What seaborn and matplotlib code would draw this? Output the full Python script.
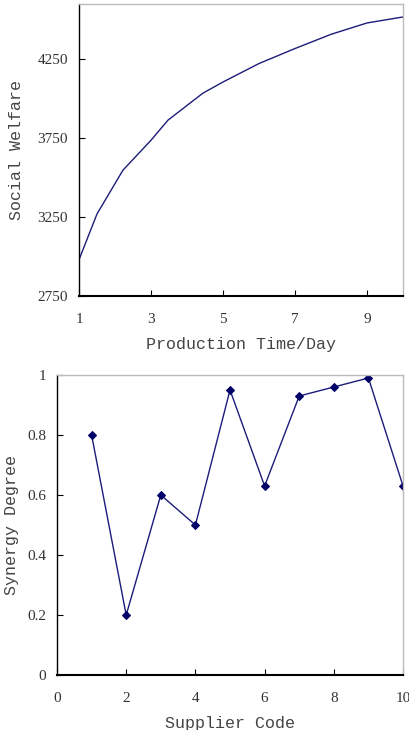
import matplotlib
matplotlib.use("Agg")
import matplotlib.pyplot as plt
import seaborn as sns
import pandas as pd

# Top chart data
prod_time = [1, 1.5, 2.22, 3, 3.47, 4.44, 5, 6, 7, 8, 9, 10]
welfare = [2980, 3270, 3547, 3737, 3864, 4035, 4106, 4223, 4318, 4408, 4480, 4518]
top_xticks = [1, 3, 5, 7, 9]
top_yticks = [2750, 3250, 3750, 4250]

# Bottom chart data
supplier = [1, 2, 3, 4, 5, 6, 7, 8, 9, 10]
synergy = [0.8, 0.2, 0.6, 0.5, 0.95, 0.63, 0.93, 0.96, 0.99, 0.63]
bot_xticks = [0, 2, 4, 6, 8, 10]
bot_yticks = [0, 0.2, 0.4, 0.6, 0.8, 1]

sns.set_theme(style="white")
plt.rcParams['font.family'] = ['Liberation Mono', 'DejaVu Sans Mono']

fig = plt.figure(figsize=(4.1, 7.3), dpi=100)
ax1 = fig.add_axes([0.1927, 0.5945, 0.7903, 0.40])
ax2 = fig.add_axes([0.139, 0.0753, 0.844, 0.411])

line_color = "#1c1c7a"

df1 = pd.DataFrame({"x": prod_time, "y": welfare})
sns.lineplot(data=df1, x="x", y="y", ax=ax1, color=line_color, linewidth=1.0)
ax1.set_xlim(1, 10)
ax1.set_ylim(2750, 4600)
ax1.set_xticks(top_xticks)
ax1.set_yticks(top_yticks)
ax1.set_xlabel("Production Time/Day", fontsize=12, labelpad=8, color="#444444")
ax1.set_ylabel("Social Welfare", fontsize=12, labelpad=10, color="#444444")

df2 = pd.DataFrame({"x": supplier, "y": synergy})
sns.lineplot(data=df2, x="x", y="y", ax=ax2, color=line_color, linewidth=1.0,
             marker="D", markersize=4, markeredgecolor="#000066",
             markerfacecolor="#000066")
ax2.set_xlim(0, 10)
ax2.set_ylim(0, 1)
ax2.set_xticks(bot_xticks)
ax2.set_yticks(bot_yticks)
ax2.set_yticklabels(["0", "0.2", "0.4", "0.6", "0.8", "1"])
ax2.set_xlabel("Supplier Code", fontsize=12, labelpad=8, color="#444444")
ax2.set_ylabel("Synergy Degree", fontsize=12, labelpad=6, color="#444444")

for ax in (ax1, ax2):
    ax.spines["left"].set_color("black")
    ax.spines["bottom"].set_color("black")
    ax.spines["top"].set_color("#bbbbbb")
    ax.spines["right"].set_color("#bbbbbb")
    for s in ax.spines.values():
        s.set_linewidth(1.0)
    ax.spines["bottom"].set_linewidth(1.5)
    ax.tick_params(direction="in", length=4, width=0.8,
                   colors="black", left=True, bottom=True, pad=8)
    ax.tick_params(axis="x", pad=12)
    for lbl in ax.get_xticklabels() + ax.get_yticklabels():
        lbl.set_fontfamily(["Liberation Serif", "DejaVu Serif"])
        lbl.set_fontsize(11)
        lbl.set_color("#333333")

fig.savefig("out.png", dpi=100)
